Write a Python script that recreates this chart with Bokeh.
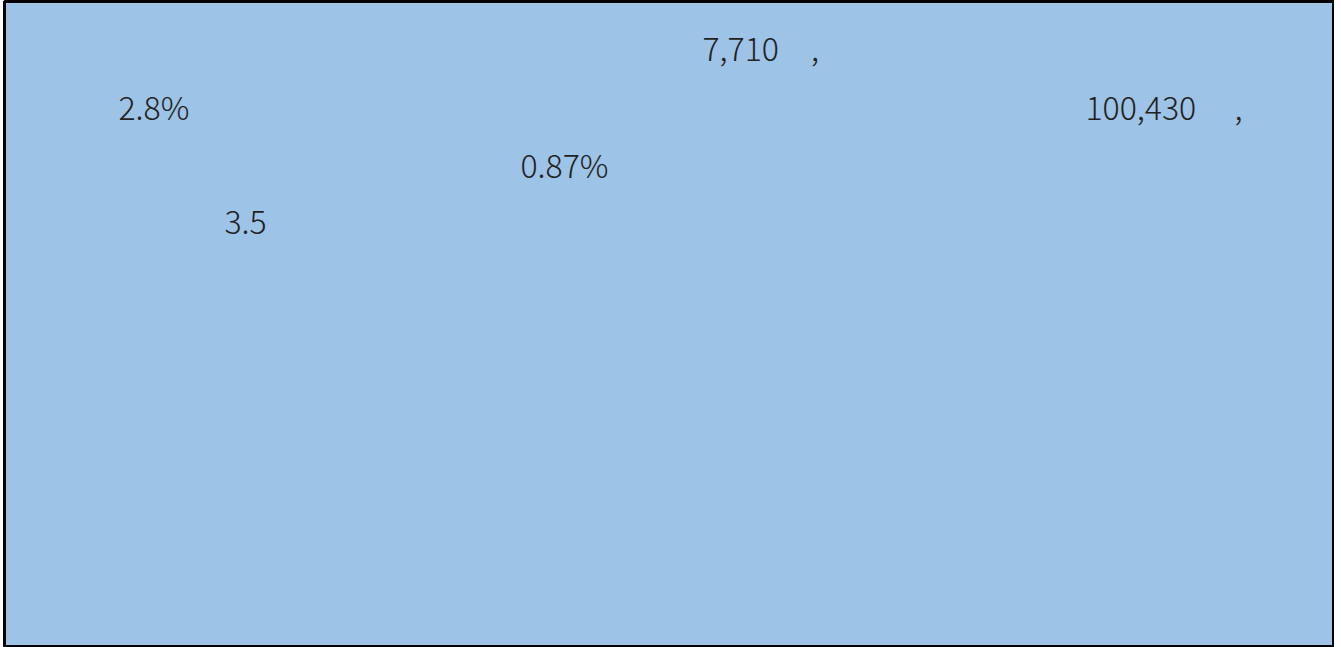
from bokeh.plotting import figure
from bokeh.models import Range1d, ColumnDataSource
from bokeh.core.properties import value
from bokeh.embed import file_html
from bokeh.resources import INLINE

# Visible label texts of the reference (other glyphs were blank in the original)
labels = ["7,710\u3000,", "2.8%", "100,430\u3000\u2009,", "0.87%", "3.5"]
# Anchor positions (left edge, baseline) in pixel units of the panel
label_x = [698, 114, 1081, 516, 220]
label_y = [45, 104, 104, 162, 221]

FW, FH = 1330, 646
p = figure(width=FW + 4, height=FH + 1, output_backend="svg", toolbar_location=None,
           x_range=Range1d(0, FW), y_range=Range1d(FH, 0),
           min_border_left=4, min_border_top=1, min_border_right=0, min_border_bottom=0)
p.axis.visible = False
p.grid.visible = False
p.background_fill_color = "#9DC3E6"
p.border_fill_color = "white"
p.outline_line_color = "black"
p.outline_line_width = 3

src = ColumnDataSource(dict(x=label_x, y=label_y, t=labels))
p.text(x="x", y="y", text="t", source=src, text_font=value("Noto Sans CJK KR Light"),
       text_font_size="32px", text_color="#222222", text_align="left",
       text_baseline="alphabetic")

open("out.html", "w").write(file_html(p, INLINE))
